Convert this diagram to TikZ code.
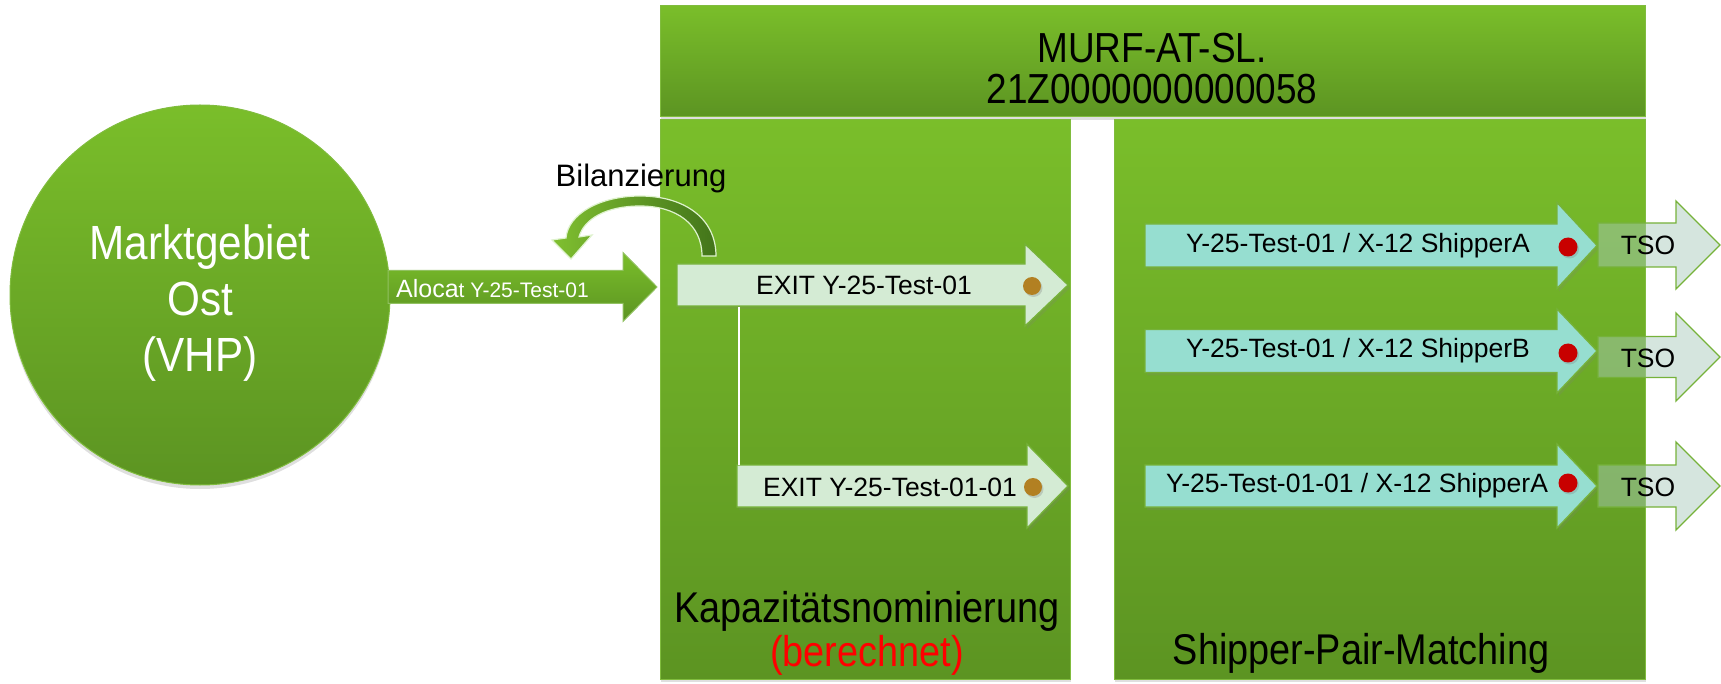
\documentclass[tikz,border=0pt]{standalone}
\usepackage{fontspec}
\setmainfont{Liberation Sans}
\newfontfamily\narrowf{Liberation Sans}[FakeStretch=0.88]
\usetikzlibrary{shadows}
\definecolor{gtop}{RGB}{122,190,42}
\definecolor{gbot}{RGB}{92,148,34}
\definecolor{gedge}{RGB}{128,188,62}
\definecolor{aedge}{RGB}{118,178,58}
\definecolor{exitfill}{RGB}{212,235,212}
\definecolor{shipfill}{RGB}{150,222,208}
\definecolor{tsofill}{RGB}{167,200,185}
\definecolor{dotbrown}{RGB}{178,128,34}
\definecolor{dotred}{RGB}{200,0,0}
\definecolor{berred}{RGB}{255,0,0}
\definecolor{cleft}{RGB}{128,192,48}
\definecolor{cright}{RGB}{66,116,26}
\definecolor{cedge}{RGB}{222,242,205}
\tikzset{
  gbox/.style={draw=gedge, line width=1pt, top color=gtop, bottom color=gbot, inner sep=0pt,
    drop shadow={opacity=0.25, shadow xshift=1pt, shadow yshift=-3pt}},
  gcirc/.style={circle, draw=gedge, line width=1pt, top color=gtop, bottom color=gbot, inner sep=0pt,
    drop shadow={opacity=0.25, shadow xshift=0pt, shadow yshift=-4pt}},
  garrow/.style={draw=aedge!80!white, line width=1pt, top color=gtop, bottom color=gbot},
  curvearrow/.style={draw=cedge, line width=1.2pt, left color=cleft, right color=cright},
  exitarrow/.style={draw=aedge, line width=1.3pt, fill=exitfill,
    drop shadow={opacity=0.2, shadow xshift=2pt, shadow yshift=-3pt}},
  shiparrow/.style={draw=aedge, line width=1.3pt, fill=shipfill,
    drop shadow={opacity=0.2, shadow xshift=2pt, shadow yshift=-3pt}},
  tsoarrow/.style={draw=aedge, line width=1.3pt, fill=tsofill, fill opacity=0.48},
  lbl/.style={inner sep=0pt, font=\fontsize{26.5}{28}\selectfont, text=black},
  bigtxt/.style={inner sep=0pt, font=\narrowf\fontsize{43}{43}\selectfont},
  bdot/.style={circle, fill=dotbrown, minimum size=18pt, inner sep=0pt,
    drop shadow={opacity=0.3, shadow xshift=1.5pt, shadow yshift=-2pt}},
  rdot/.style={circle, fill=dotred, minimum size=19pt, inner sep=0pt,
    drop shadow={opacity=0.3, shadow xshift=1.5pt, shadow yshift=-2pt}},
}
\newcommand\blkarrow[7]{%
  \path[#1] (#2,#5-#6) -- (#3,#5-#6) -- (#3,#5-#7) -- (#4,#5) -- (#3,#5+#7)
    -- (#3,#5+#6) -- (#2,#5+#6) -- cycle;}
\begin{document}
\begin{tikzpicture}[x=1pt,y=-1pt]
\useasboundingbox (0,0) rectangle (1721,684);
% boxes
\node[gbox, minimum width=985pt, minimum height=111pt] (topbox) at (1152.5,61.5) {};
\node[gbox, minimum width=410pt, minimum height=559pt] (kapbox) at (865,399.5) {};
\node[gbox, minimum width=531pt, minimum height=559pt] (spmbox) at (1379.5,399.5) {};
\node[bigtxt, align=center, font=\narrowf\fontsize{42}{41}\selectfont] (murf) at (1152,69) {MURF-AT-SL.\\21Z0000000000058};
\node[bigtxt, anchor=base] (kap) at (867,622) {Kapazitätsnominierung};
\node[bigtxt, anchor=base, text=berred] (kapb) at (867,666) {(berechnet)};
\node[bigtxt, anchor=base] (spm) at (1361,664) {Shipper-Pair-Matching};
% market area circle
\node[gcirc, minimum size=380pt] (mg) at (200,295) {};
\node[inner sep=0pt, align=center, text=white, font=\narrowf\fontsize{48}{56}\selectfont] (mgtxt) at (200,303) {Marktgebiet\\Ost\\(VHP)};
% allocation arrow
\blkarrow{garrow}{388}{623}{657}{287}{16.5}{34.5}
\node[anchor=base west, inner sep=0pt, text=white] (aloc) at (396,298) {\fontsize{25}{25}\selectfont Aloca\fontsize{21}{21}\selectfont t Y-25-Test-01};
% Bilanzierung curved arrow
\path[curvearrow] (716,256) .. controls (716,218) and (684,196) .. (640,196)
  .. controls (600,196) and (568,214) .. (566,238) -- (552,240) -- (571,259) -- (592,235) -- (579,237)
  .. controls (584,219) and (606,206) .. (640,206)
  .. controls (676,206) and (702,224) .. (702,256) -- cycle;
\node[anchor=base, inner sep=0pt, font=\fontsize{31}{31}\selectfont] (bil) at (641,187) {Bilanzierung};
% EXIT arrows
\blkarrow{exitarrow}{677}{1025}{1068}{285}{21}{41}
\node[lbl] (exit1) at (864,285) {EXIT Y-25-Test-01};
\node[bdot] (d1) at (1032,286) {};
\blkarrow{exitarrow}{737}{1027}{1068}{486}{21}{42}
\node[lbl] (exit2) at (890,487) {EXIT Y-25-Test-01-01};
\node[bdot] (d2) at (1033,487) {};
\coordinate (l1) at (739,307);
\coordinate (l2) at (739,465);
\draw[white, line width=1.5pt] (l1) -- (l2);
% shipper arrows
\blkarrow{shiparrow}{1145}{1557}{1597}{245.5}{21.5}{43}
\node[lbl] (s1) at (1358,246) {Y-25-Test-01 / X-12 ShipperA};
\node[rdot] (r1) at (1568,247) {};
\blkarrow{shiparrow}{1145}{1557}{1597}{351}{21.5}{42}
\node[lbl] (s2) at (1358,351) {Y-25-Test-01 / X-12 ShipperB};
\node[rdot] (r2) at (1568,353) {};
\blkarrow{shiparrow}{1145}{1557}{1597}{486}{21}{42}
\node[lbl] (s3) at (1357,486) {Y-25-Test-01-01 / X-12 ShipperA};
\node[rdot] (r3) at (1568,483) {};
% TSO arrows
\blkarrow{tsoarrow}{1598}{1676}{1720}{245}{22}{44}
\node[lbl] (t1) at (1648,245) {TSO};
\blkarrow{tsoarrow}{1598}{1676}{1720}{357}{20.5}{44}
\node[lbl] (t2) at (1648,358) {TSO};
\blkarrow{tsoarrow}{1598}{1676}{1720}{486}{21}{44}
\node[lbl] (t3) at (1648,487) {TSO};
\end{tikzpicture}
\end{document}
